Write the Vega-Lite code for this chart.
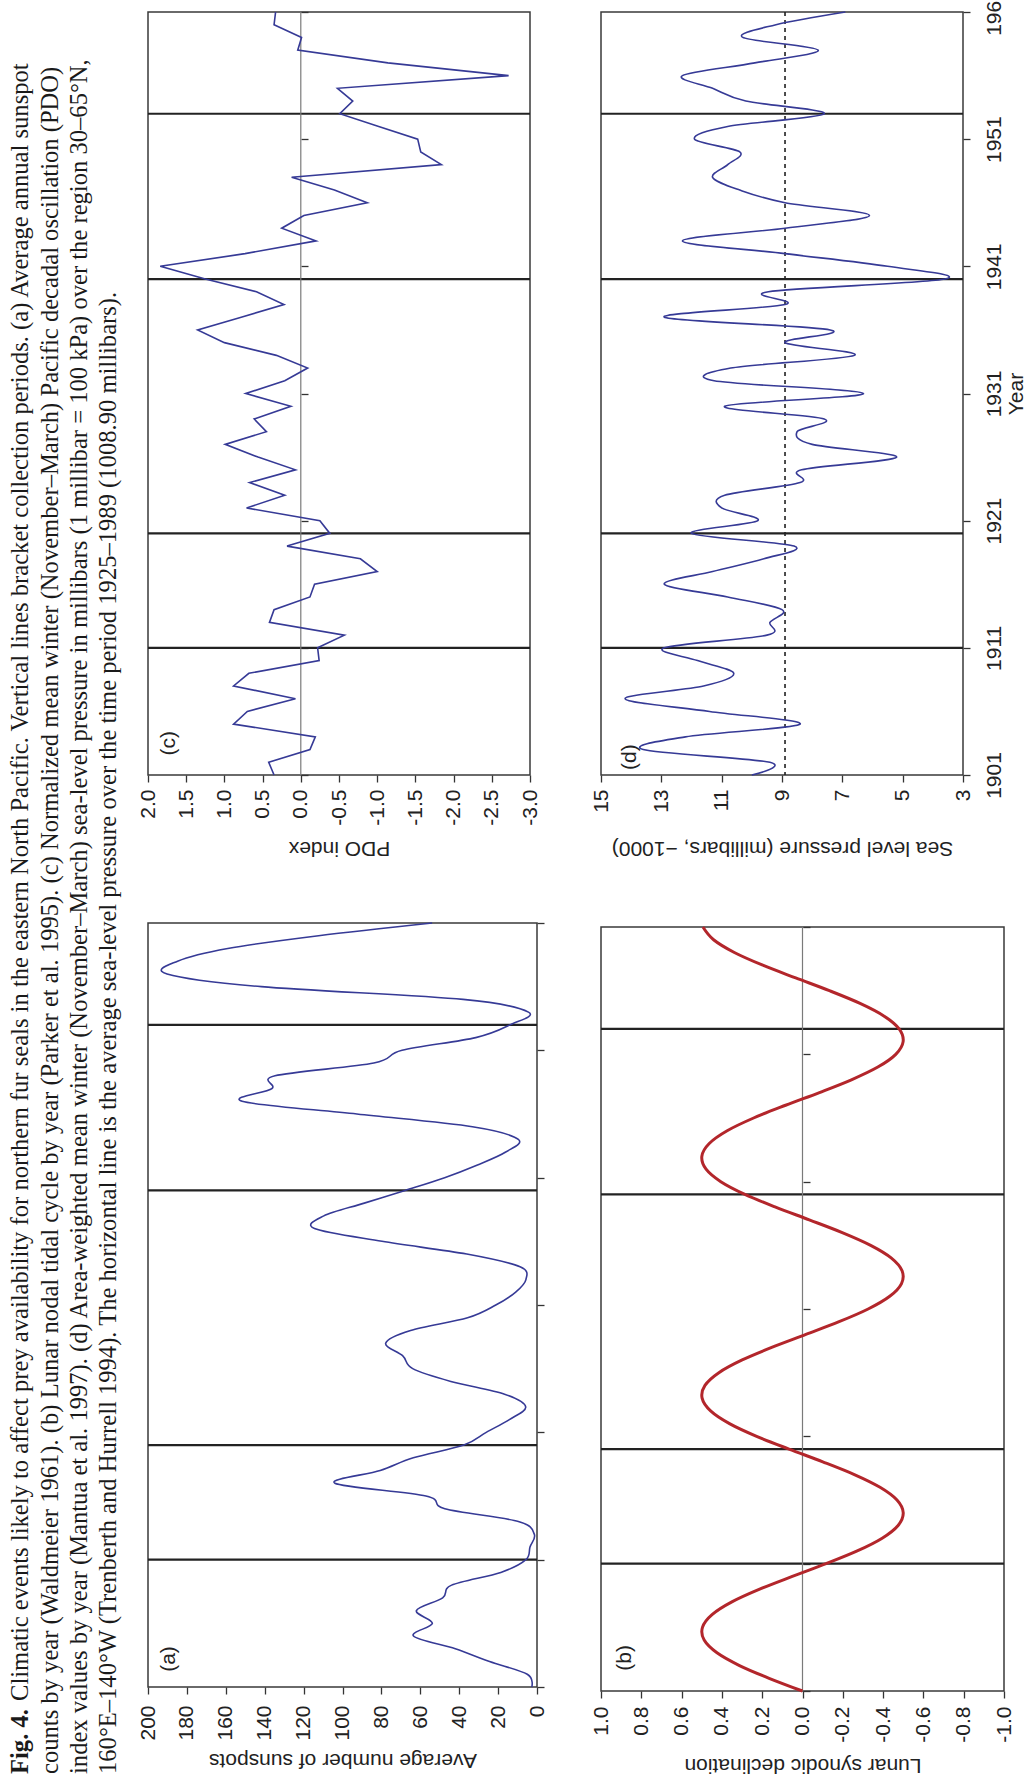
{
  "$schema": "https://vega.github.io/schema/vega-lite/v6.json",
  "background": "white",
  "padding": {"left": 0, "top": -13, "right": 0, "bottom": 0},
  "spacing": 6,
  "config": {
    "view": {"stroke": "#3a3a3a", "strokeWidth": 1.5},
    "font": "Liberation Sans",
    "axis": {
      "labelFont": "Liberation Sans", "titleFont": "Liberation Sans",
      "labelFontSize": 21, "titleFontSize": 21, "titleFontWeight": "normal",
      "labelColor": "#222222", "titleColor": "#222222",
      "tickColor": "#333333", "tickSize": 7, "tickWidth": 1.3,
      "domain": false, "grid": false, "labelFlush": false, "labelOverlap": false
    }
  },
  "datasets": {
    "caption": [
      {"line": 1, "start": 82, "text": "Climatic events likely to affect prey availability for northern fur seals in the eastern North Pacific. Vertical lines bracket collection periods. (a) Average annual sunspot"},
      {"line": 2, "start": 9, "text": "counts by year (Waldmeier 1961). (b) Lunar nodal tidal cycle by year (Parker et al. 1995). (c) Normalized mean winter (November–March) Pacific decadal oscillation (PDO)"},
      {"line": 3, "start": 9, "text": "index values by year (Mantua et al. 1997). (d) Area-weighted mean winter (November–March) sea-level pressure in millibars (1 millibar = 100 kPa) over the region 30–65°N,"},
      {"line": 4, "start": 9, "text": "160°E–140°W (Trenberth and Hurrell 1994). The horizontal line is the average sea-level pressure over the time period 1925–1989 (1008.90 millibars)."}
    ],
    "captionBold": [{"line": 1, "start": 9, "text": "Fig. 4."}],
    "periods": [{"year": 1911}, {"year": 1920}, {"year": 1940}, {"year": 1953}],
    "pdo": [
      {"year": 1901, "pdo": 0.35}, {"year": 1902, "pdo": 0.42}, {"year": 1903, "pdo": -0.12}, {"year": 1904, "pdo": -0.19},
      {"year": 1905, "pdo": 0.88}, {"year": 1906, "pdo": 0.70}, {"year": 1907, "pdo": 0.07}, {"year": 1908, "pdo": 0.88},
      {"year": 1909, "pdo": 0.68}, {"year": 1910, "pdo": -0.24}, {"year": 1911, "pdo": -0.22}, {"year": 1912, "pdo": -0.57},
      {"year": 1913, "pdo": 0.41}, {"year": 1914, "pdo": 0.35}, {"year": 1915, "pdo": -0.12}, {"year": 1916, "pdo": -0.18},
      {"year": 1917, "pdo": -1.00}, {"year": 1918, "pdo": -0.78}, {"year": 1919, "pdo": 0.18}, {"year": 1920, "pdo": -0.38},
      {"year": 1921, "pdo": -0.25}, {"year": 1922, "pdo": 0.71}, {"year": 1923, "pdo": 0.21}, {"year": 1924, "pdo": 0.67},
      {"year": 1925, "pdo": 0.07}, {"year": 1926, "pdo": 0.56}, {"year": 1927, "pdo": 0.99}, {"year": 1928, "pdo": 0.45},
      {"year": 1929, "pdo": 0.61}, {"year": 1930, "pdo": 0.13}, {"year": 1931, "pdo": 0.72}, {"year": 1932, "pdo": 0.21},
      {"year": 1933, "pdo": -0.09}, {"year": 1934, "pdo": 0.32}, {"year": 1935, "pdo": 1.00}, {"year": 1936, "pdo": 1.35},
      {"year": 1937, "pdo": 0.78}, {"year": 1938, "pdo": 0.22}, {"year": 1939, "pdo": 0.58}, {"year": 1940, "pdo": 1.25},
      {"year": 1941, "pdo": 1.84}, {"year": 1942, "pdo": 0.73}, {"year": 1943, "pdo": -0.20}, {"year": 1944, "pdo": 0.25},
      {"year": 1945, "pdo": -0.04}, {"year": 1946, "pdo": -0.87}, {"year": 1947, "pdo": -0.44}, {"year": 1948, "pdo": 0.12},
      {"year": 1949, "pdo": -1.84}, {"year": 1950, "pdo": -1.57}, {"year": 1951, "pdo": -1.53}, {"year": 1952, "pdo": -1.02},
      {"year": 1953, "pdo": -0.51}, {"year": 1954, "pdo": -0.68}, {"year": 1955, "pdo": -0.48}, {"year": 1956, "pdo": -2.72},
      {"year": 1957, "pdo": -1.14}, {"year": 1958, "pdo": 0.04}, {"year": 1959, "pdo": -0.01}, {"year": 1960, "pdo": 0.35},
      {"year": 1961, "pdo": 0.33}
    ],
    "slp": [
      {"year": 1901, "slp": 10.0}, {"year": 1902, "slp": 9.4}, {"year": 1903, "slp": 13.6}, {"year": 1904, "slp": 12.2},
      {"year": 1905, "slp": 8.4}, {"year": 1906, "slp": 11.4}, {"year": 1907, "slp": 14.2}, {"year": 1908, "slp": 11.6},
      {"year": 1909, "slp": 10.6}, {"year": 1910, "slp": 11.8}, {"year": 1911, "slp": 12.9}, {"year": 1912, "slp": 9.5},
      {"year": 1913, "slp": 9.4}, {"year": 1914, "slp": 9.0}, {"year": 1915, "slp": 10.8}, {"year": 1916, "slp": 12.9},
      {"year": 1917, "slp": 11.3}, {"year": 1918, "slp": 9.6}, {"year": 1919, "slp": 8.6}, {"year": 1920, "slp": 12.0},
      {"year": 1921, "slp": 9.8}, {"year": 1922, "slp": 11.0}, {"year": 1923, "slp": 10.9}, {"year": 1924, "slp": 8.4},
      {"year": 1925, "slp": 8.35}, {"year": 1926, "slp": 5.2}, {"year": 1927, "slp": 8.0}, {"year": 1928, "slp": 8.5},
      {"year": 1929, "slp": 7.6}, {"year": 1930, "slp": 10.9}, {"year": 1931, "slp": 6.3}, {"year": 1932, "slp": 11.25},
      {"year": 1933, "slp": 10.7}, {"year": 1934, "slp": 6.6}, {"year": 1935, "slp": 8.9}, {"year": 1936, "slp": 7.4},
      {"year": 1937, "slp": 12.9}, {"year": 1938, "slp": 8.9}, {"year": 1939, "slp": 9.45}, {"year": 1940, "slp": 3.6},
      {"year": 1941, "slp": 5.5}, {"year": 1942, "slp": 8.9}, {"year": 1943, "slp": 12.3}, {"year": 1944, "slp": 8.9},
      {"year": 1945, "slp": 6.1}, {"year": 1946, "slp": 8.9}, {"year": 1947, "slp": 10.4}, {"year": 1948, "slp": 11.3},
      {"year": 1949, "slp": 10.8}, {"year": 1950, "slp": 10.4}, {"year": 1951, "slp": 11.9}, {"year": 1952, "slp": 10.8},
      {"year": 1953, "slp": 7.6}, {"year": 1954, "slp": 10.2}, {"year": 1955, "slp": 11.3}, {"year": 1956, "slp": 12.3},
      {"year": 1957, "slp": 9.9}, {"year": 1958, "slp": 7.8}, {"year": 1959, "slp": 10.3}, {"year": 1960, "slp": 9.2},
      {"year": 1961, "slp": 6.9}
    ],
    "sun": [
      {"year": 1901, "spots": 2.7}, {"year": 1902, "spots": 5.0}, {"year": 1903, "spots": 24.4}, {"year": 1904, "spots": 42.0},
      {"year": 1905, "spots": 63.5}, {"year": 1906, "spots": 53.8}, {"year": 1907, "spots": 62.0}, {"year": 1908, "spots": 48.5},
      {"year": 1909, "spots": 43.9}, {"year": 1910, "spots": 18.6}, {"year": 1911, "spots": 5.7}, {"year": 1912, "spots": 3.6},
      {"year": 1913, "spots": 1.4}, {"year": 1914, "spots": 9.6}, {"year": 1915, "spots": 47.4}, {"year": 1916, "spots": 57.1},
      {"year": 1917, "spots": 103.9}, {"year": 1918, "spots": 80.6}, {"year": 1919, "spots": 63.6}, {"year": 1920, "spots": 37.6},
      {"year": 1921, "spots": 26.1}, {"year": 1922, "spots": 14.2}, {"year": 1923, "spots": 5.8}, {"year": 1924, "spots": 16.7},
      {"year": 1925, "spots": 44.3}, {"year": 1926, "spots": 63.9}, {"year": 1927, "spots": 69.0}, {"year": 1928, "spots": 77.8},
      {"year": 1929, "spots": 65.0}, {"year": 1930, "spots": 35.7}, {"year": 1931, "spots": 21.2}, {"year": 1932, "spots": 11.1},
      {"year": 1933, "spots": 5.7}, {"year": 1934, "spots": 8.7}, {"year": 1935, "spots": 36.1}, {"year": 1936, "spots": 79.7},
      {"year": 1937, "spots": 114.4}, {"year": 1938, "spots": 109.6}, {"year": 1939, "spots": 88.8}, {"year": 1940, "spots": 67.8},
      {"year": 1941, "spots": 47.5}, {"year": 1942, "spots": 30.6}, {"year": 1943, "spots": 16.3}, {"year": 1944, "spots": 9.6},
      {"year": 1945, "spots": 33.2}, {"year": 1946, "spots": 92.6}, {"year": 1947, "spots": 151.6}, {"year": 1948, "spots": 136.3},
      {"year": 1949, "spots": 134.7}, {"year": 1950, "spots": 83.9}, {"year": 1951, "spots": 69.4}, {"year": 1952, "spots": 31.5},
      {"year": 1953, "spots": 13.9}, {"year": 1954, "spots": 4.4}, {"year": 1955, "spots": 38.0}, {"year": 1956, "spots": 141.7},
      {"year": 1957, "spots": 190.2}, {"year": 1958, "spots": 184.8}, {"year": 1959, "spots": 159.0}, {"year": 1960, "spots": 112.3},
      {"year": 1961, "spots": 53.9}
    ],
    "lunar": [
      {"year": 1901, "decl": 0.0}, {"year": 1902, "decl": 0.1657}, {"year": 1903, "decl": 0.3127}, {"year": 1904, "decl": 0.4244},
      {"year": 1905, "decl": 0.4880}, {"year": 1906, "decl": 0.4965}, {"year": 1907, "decl": 0.4489}, {"year": 1908, "decl": 0.3505},
      {"year": 1909, "decl": 0.2126}, {"year": 1910, "decl": 0.0506}, {"year": 1911, "decl": -0.1172}, {"year": 1912, "decl": -0.2716},
      {"year": 1913, "decl": -0.3954}, {"year": 1914, "decl": -0.4744}, {"year": 1915, "decl": -0.4999}, {"year": 1916, "decl": -0.4689},
      {"year": 1917, "decl": -0.3848}, {"year": 1918, "decl": -0.2573}, {"year": 1919, "decl": -0.1006}, {"year": 1920, "decl": 0.0673},
      {"year": 1921, "decl": 0.2278}, {"year": 1922, "decl": 0.3623}, {"year": 1923, "decl": 0.4561}, {"year": 1924, "decl": 0.4982},
      {"year": 1925, "decl": 0.4840}, {"year": 1926, "decl": 0.4150}, {"year": 1927, "decl": 0.2993}, {"year": 1928, "decl": 0.1497},
      {"year": 1929, "decl": -0.0169}, {"year": 1930, "decl": -0.1815}, {"year": 1931, "decl": -0.3258}, {"year": 1932, "decl": -0.4330},
      {"year": 1933, "decl": -0.4914}, {"year": 1934, "decl": -0.4942}, {"year": 1935, "decl": -0.4413}, {"year": 1936, "decl": -0.3383},
      {"year": 1937, "decl": -0.1972}, {"year": 1938, "decl": -0.0337}, {"year": 1939, "decl": 0.1335}, {"year": 1940, "decl": 0.2857},
      {"year": 1941, "decl": 0.4054}, {"year": 1942, "decl": 0.4795}, {"year": 1943, "decl": 0.4994}, {"year": 1944, "decl": 0.4628},
      {"year": 1945, "decl": 0.3739}, {"year": 1946, "decl": 0.2427}, {"year": 1947, "decl": 0.0841}, {"year": 1948, "decl": -0.0841},
      {"year": 1949, "decl": -0.2427}, {"year": 1950, "decl": -0.3739}, {"year": 1951, "decl": -0.4628}, {"year": 1952, "decl": -0.4994},
      {"year": 1953, "decl": -0.4795}, {"year": 1954, "decl": -0.4054}, {"year": 1955, "decl": -0.2857}, {"year": 1956, "decl": -0.1335},
      {"year": 1957, "decl": 0.0337}, {"year": 1958, "decl": 0.1972}, {"year": 1959, "decl": 0.3383}, {"year": 1960, "decl": 0.4413},
      {"year": 1961, "decl": 0.4942}
    ]
  },
  "hconcat": [
    {
      "width": 130, "height": 1771,
      "view": {"stroke": null},
      "layer": [
        {
          "data": {"name": "caption"},
          "mark": {"type": "text", "angle": 270, "align": "left", "baseline": "alphabetic", "font": "Liberation Serif", "fontSize": 24.6, "color": "#1a1a1a", "clip": true},
          "encoding": {
            "x": {"field": "line", "type": "quantitative", "scale": {"domain": [0.0318, 4.4793], "nice": false, "zero": false}, "axis": null},
            "y": {"field": "start", "type": "quantitative", "scale": {"domain": [0, 1771], "nice": false, "zero": false}, "axis": null},
            "text": {"field": "text"}
          }
        },
        {
          "data": {"name": "captionBold"},
          "mark": {"type": "text", "angle": 270, "align": "left", "baseline": "alphabetic", "font": "Liberation Serif", "fontSize": 24.6, "fontWeight": "bold", "color": "#1a1a1a", "clip": true},
          "encoding": {
            "x": {"field": "line", "type": "quantitative", "scale": {"domain": [0.0318, 4.4793], "nice": false, "zero": false}, "axis": null},
            "y": {"field": "start", "type": "quantitative", "scale": {"domain": [0, 1771], "nice": false, "zero": false}, "axis": null},
            "text": {"field": "text"}
          }
        }
      ]
    },
    {
      "spacing": 41,
      "hconcat": [
        {
          "spacing": 60,
          "vconcat": [
            {
              "width": 382, "height": 763,
              "layer": [
                {
                  "data": {"name": "periods"},
                  "mark": {"type": "rule", "color": "#222222", "strokeWidth": 2.2},
                  "encoding": {"y": {"field": "year", "type": "quantitative", "scale": {"domain": [1901, 1961], "nice": false, "zero": false}}}
                },
                {
                  "data": {"values": [{"z": 0}]},
                  "mark": {"type": "rule", "color": "#7a7a7a", "strokeWidth": 1.2},
                  "encoding": {"x": {"datum": 0, "type": "quantitative", "scale": {"domain": [-3, 2], "reverse": true, "nice": false, "zero": false}}}
                },
                {
                  "data": {"name": "pdo"},
                  "mark": {"type": "line", "color": "#363a96", "strokeWidth": 1.6},
                  "encoding": {
                    "x": {"field": "pdo", "type": "quantitative", "scale": {"domain": [-3, 2], "reverse": true, "nice": false, "zero": false},
                      "axis": {"orient": "bottom", "values": [-3, -2.5, -2, -1.5, -1, -0.5, 0, 0.5, 1, 1.5, 2], "tickCount": 40, "labelExpr": "replace(format(datum.value, '.1f'), '−', '-')", "labelAngle": 270, "labelOverlap": false, "labelPadding": 7, "title": "PDO index", "titleAngle": 180, "titleBaseline": "bottom", "titlePadding": 12}},
                    "y": {"field": "year", "type": "quantitative", "scale": {"domain": [1901, 1961], "nice": false, "zero": false},
                      "axis": {"orient": "right", "offset": -229, "values": [1901, 1911, 1921, 1931, 1941, 1951, 1961], "tickCount": 40, "labels": false, "title": null}},
                    "order": {"field": "year"}
                  }
                },
                {
                  "data": {"values": [{"z": 0}]},
                  "mark": {"type": "text", "angle": 270, "fontSize": 21, "font": "Liberation Sans", "color": "#222222"},
                  "encoding": {
                    "x": {"datum": 1.73, "type": "quantitative", "scale": {"domain": [-3, 2], "reverse": true, "nice": false, "zero": false}},
                    "y": {"datum": 1903.5, "type": "quantitative", "scale": {"domain": [1901, 1961], "nice": false, "zero": false}},
                    "text": {"value": "(c)"}
                  }
                }
              ]
            },
            {
              "width": 389, "height": 764,
              "layer": [
                {
                  "data": {"name": "periods"},
                  "mark": {"type": "rule", "color": "#222222", "strokeWidth": 2.2},
                  "encoding": {"y": {"field": "year", "type": "quantitative", "scale": {"domain": [1901, 1961], "nice": false, "zero": false}}}
                },
                {
                  "data": {"name": "sun"},
                  "mark": {"type": "line", "color": "#363a96", "strokeWidth": 1.6, "interpolate": "cardinal"},
                  "encoding": {
                    "x": {"field": "spots", "type": "quantitative", "scale": {"domain": [0, 200], "reverse": true, "nice": false, "zero": false},
                      "axis": {"orient": "bottom", "values": [0, 20, 40, 60, 80, 100, 120, 140, 160, 180, 200], "tickCount": 40, "format": "d", "labelAngle": 270, "labelOverlap": false, "labelPadding": 11, "title": "Average number of sunspots", "titleAngle": 180, "titleBaseline": "bottom", "titlePadding": 9}},
                    "y": {"field": "year", "type": "quantitative", "scale": {"domain": [1901, 1961], "nice": false, "zero": false},
                      "axis": {"orient": "right", "values": [1901, 1911, 1921, 1931, 1941, 1951, 1961], "tickCount": 40, "labels": false, "title": null}},
                    "order": {"field": "year"}
                  }
                },
                {
                  "data": {"values": [{"z": 0}]},
                  "mark": {"type": "text", "angle": 270, "fontSize": 21, "font": "Liberation Sans", "color": "#222222"},
                  "encoding": {
                    "x": {"datum": 189, "type": "quantitative", "scale": {"domain": [0, 200], "reverse": true, "nice": false, "zero": false}},
                    "y": {"datum": 1903.2, "type": "quantitative", "scale": {"domain": [1901, 1961], "nice": false, "zero": false}},
                    "text": {"value": "(a)"}
                  }
                }
              ]
            }
          ]
        },
        {
          "spacing": 60,
          "vconcat": [
            {
              "width": 362, "height": 763,
              "layer": [
                {
                  "data": {"name": "periods"},
                  "mark": {"type": "rule", "color": "#222222", "strokeWidth": 2.2},
                  "encoding": {"y": {"field": "year", "type": "quantitative", "scale": {"domain": [1901, 1961], "nice": false, "zero": false}}}
                },
                {
                  "data": {"values": [{"z": 0}]},
                  "mark": {"type": "rule", "color": "#222222", "strokeWidth": 1.6, "strokeDash": [4, 4]},
                  "encoding": {"x": {"datum": 8.9, "type": "quantitative", "scale": {"domain": [3, 15], "reverse": true, "nice": false, "zero": false}}}
                },
                {
                  "data": {"name": "slp"},
                  "mark": {"type": "line", "color": "#363a96", "strokeWidth": 1.6, "interpolate": "cardinal"},
                  "encoding": {
                    "x": {"field": "slp", "type": "quantitative", "scale": {"domain": [3, 15], "reverse": true, "nice": false, "zero": false},
                      "axis": {"orient": "bottom", "values": [3, 5, 7, 9, 11, 13, 15], "tickCount": 40, "format": "d", "labelAngle": 270, "labelOverlap": false, "labelPadding": 7, "title": "Sea level pressure (millibars, −1000)", "titleAngle": 180, "titleBaseline": "bottom", "titlePadding": 25}},
                    "y": {"field": "year", "type": "quantitative", "scale": {"domain": [1901, 1961], "nice": false, "zero": false},
                      "axis": {"orient": "right", "values": [1901, 1911, 1921, 1931, 1941, 1951, 1961], "tickCount": 40, "format": "d", "labelAngle": 270, "labelOverlap": false, "labelAlign": "center", "labelBaseline": "top", "labelPadding": 13, "title": "Year", "titleAngle": 270, "titleBaseline": "top", "titlePadding": 1}},
                    "order": {"field": "year"}
                  }
                },
                {
                  "data": {"values": [{"z": 0}]},
                  "mark": {"type": "text", "angle": 270, "fontSize": 21, "font": "Liberation Sans", "color": "#222222"},
                  "encoding": {
                    "x": {"datum": 14.04, "type": "quantitative", "scale": {"domain": [3, 15], "reverse": true, "nice": false, "zero": false}},
                    "y": {"datum": 1902.4, "type": "quantitative", "scale": {"domain": [1901, 1961], "nice": false, "zero": false}},
                    "text": {"value": "(d)"}
                  }
                }
              ]
            },
            {
              "width": 403, "height": 764,
              "layer": [
                {
                  "data": {"name": "periods"},
                  "mark": {"type": "rule", "color": "#222222", "strokeWidth": 2.2},
                  "encoding": {"y": {"field": "year", "type": "quantitative", "scale": {"domain": [1901, 1961], "nice": false, "zero": false}}}
                },
                {
                  "data": {"values": [{"z": 0}]},
                  "mark": {"type": "rule", "color": "#7a7a7a", "strokeWidth": 1.2},
                  "encoding": {"x": {"datum": 0, "type": "quantitative", "scale": {"domain": [-1, 1], "reverse": true, "nice": false, "zero": false}}}
                },
                {
                  "data": {"name": "lunar"},
                  "mark": {"type": "line", "color": "#b3262b", "strokeWidth": 3, "interpolate": "cardinal"},
                  "encoding": {
                    "x": {"field": "decl", "type": "quantitative", "scale": {"domain": [-1, 1], "reverse": true, "nice": false, "zero": false},
                      "axis": {"orient": "bottom", "values": [-1, -0.8, -0.6, -0.4, -0.2, 0, 0.2, 0.4, 0.6, 0.8, 1], "tickCount": 40, "labelExpr": "replace(format(datum.value, '.1f'), '−', '-')", "labelAngle": 270, "labelOverlap": false, "labelPadding": 8, "title": "Lunar synodic declination", "titleAngle": 180, "titleBaseline": "bottom", "titlePadding": 12}},
                    "y": {"field": "year", "type": "quantitative", "scale": {"domain": [1901, 1961], "nice": false, "zero": false},
                      "axis": {"orient": "right", "offset": -201, "values": [1901, 1911, 1921, 1931, 1941, 1951, 1961], "tickCount": 40, "labels": false, "title": null}},
                    "order": {"field": "year"}
                  }
                },
                {
                  "data": {"values": [{"z": 0}]},
                  "mark": {"type": "text", "angle": 270, "fontSize": 21, "font": "Liberation Sans", "color": "#222222"},
                  "encoding": {
                    "x": {"datum": 0.88, "type": "quantitative", "scale": {"domain": [-1, 1], "reverse": true, "nice": false, "zero": false}},
                    "y": {"datum": 1903.6, "type": "quantitative", "scale": {"domain": [1901, 1961], "nice": false, "zero": false}},
                    "text": {"value": "(b)"}
                  }
                }
              ]
            }
          ]
        }
      ]
    }
  ]
}
